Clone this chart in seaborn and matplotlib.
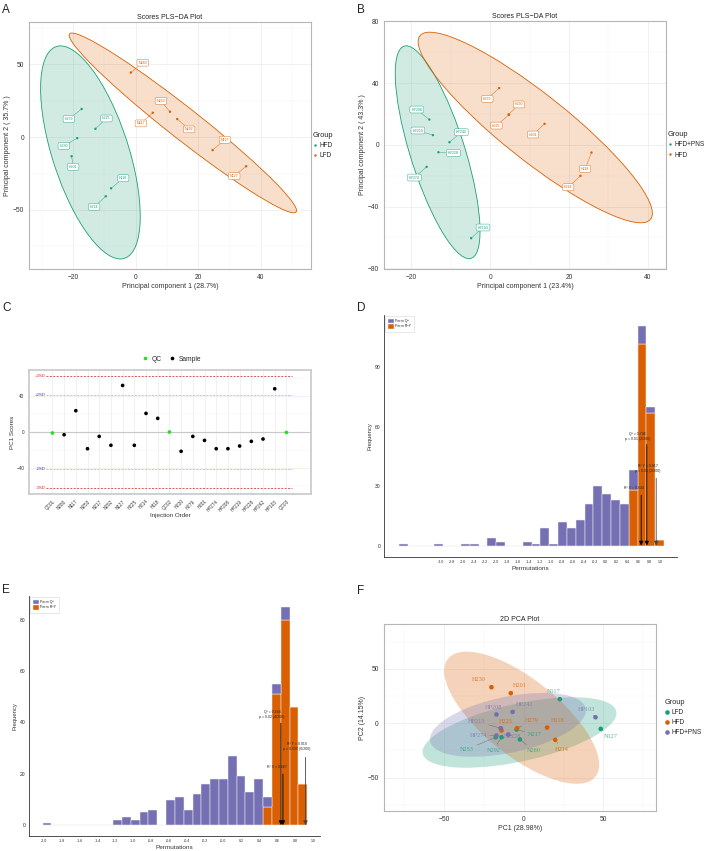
import numpy as np
import pandas as pd
import matplotlib
matplotlib.use("Agg")
import matplotlib.pyplot as plt
from matplotlib.patches import Ellipse
from matplotlib.ticker import MultipleLocator, FixedLocator
import seaborn as sns

sns.set_style("white")
plt.rcParams["font.family"] = ["Liberation Sans", "DejaVu Sans"]

GREEN, ORANGE, PURPLE = "#1B9E77", "#D95F02", "#7570B3"

# ---------------- data ----------------
# A: PLS-DA scores, HFD vs LFD
a_names = ["H279", "H225", "H230", "H201", "H118", "H214",
           "N280", "N217", "N253", "N292", "N117", "N127"]
a_group = ["HFD"] * 6 + ["LFD"] * 6
a_pc1 = [-17.2, -12.8, -18.6, -20.4, -7.8, -9.5, -1.5, 5.5, 11.0, 13.3, 24.6, 35.3]
a_pc2 = [19.3, 5.7, -0.7, -13.1, -35.1, -40.6, 44.3, 16.7, 17.4, 12.4, -8.9, -20.0]
# ellipse: centre x, centre y, half-extent x, half-extent y, correlation
a_ell = {"HFD": (-14.4, -10.5, 15.9, 73.1, -0.60),
         "LFD": (15.1, 9.75, 36.3, 61.7, -0.975)}

# B: PLS-DA scores, HFD+PNS vs HFD
b_names = ["HP208", "HP219", "HP242", "HP228", "HP274", "HP103",
           "H279", "H230", "H225", "H201", "H118", "H214"]
b_group = ["HFD+PNS"] * 6 + ["HFD"] * 6
b_pc1 = [-15.4, -14.5, -10.3, -13.1, -16.1, -4.8, 2.3, 4.7, 4.8, 13.8, 25.7, 22.9]
b_pc2 = [16.4, 6.3, 1.7, -4.8, -14.3, -60.5, 36.8, 19.7, 19.5, 13.6, -5.0, -20.1]
b_ell = {"HFD+PNS": (-13.3, -4.8, 10.75, 69.0, -0.74),
         "HFD": (11.45, 11.25, 29.7, 61.8, -0.90)}

# C: PC1 scores by injection order
c_order = ["QC01", "N280", "N117", "N253", "N217", "N292", "N127", "H225", "H214",
           "H118", "QC02", "H230", "H279", "H201", "HP274", "HP208", "HP219",
           "HP228", "HP242", "HP103", "QC03"]
c_scores = [-1.1, -3.0, 23.7, -18.6, -4.9, -14.8, 51.8, -14.8, 20.7, 15.2, 0.0,
            -21.5, -4.9, -9.3, -18.6, -18.6, -15.6, -10.4, -7.8, 48.1, -0.5]
c_sd = 20.7

# D: permutation test (HFD vs LFD), 30 bins
d_edges = np.linspace(-3.76, 1.06, 31)
d_q2 = [1, 0, 0, 0, 1, 0, 0, 1, 1, 0, 4, 2, 0, 0, 2, 1, 9, 1, 12, 9,
        13, 21, 30, 26, 23, 21, 10, 9, 3, 0]
d_r2y = [0] * 26 + [28, 102, 67, 3]
d_stats = {"Q2": 0.746, "R2Y": 0.917, "R2X": 0.644}

# E: permutation test (HFD+PNS vs HFD), 30 bins
e_edges = np.linspace(-2.011, 0.937, 31)
e_q2 = [1, 0, 0, 0, 0, 0, 0, 0, 2, 3, 2, 5, 6, 0, 10, 11, 6, 12, 16, 18,
        18, 27, 19, 13, 18, 4, 4, 5, 0, 0]
e_r2y = [0] * 25 + [7, 51, 80, 46, 16]
e_stats = {"Q2": 0.644, "R2Y": 0.919, "R2X": 0.667}

# F: PCA scores, three groups
f_names = ["N117", "N127", "N253", "N292", "N217", "N280",
           "H230", "H201", "H118", "H214", "H279", "H225",
           "HP208", "HP242", "HP103", "HP219", "HP274", "HP228"]
f_group = ["LFD"] * 6 + ["HFD"] * 6 + ["HFD+PNS"] * 6
f_pc1 = [22.6, 48.3, -17.6, -14.0, -4.6, -2.5,
         -20.3, -8.2, 14.6, 19.7, -4.2, -14.0,
         -17.2, -7.1, 45.0, -14.6, -17.2, -9.8]
f_pc2 = [22.1, -5.2, -12.9, -12.9, -5.8, -15.0,
         33.1, 27.6, -4.0, -15.3, -4.6, -6.7,
         8.0, 10.4, 5.5, -4.6, -11.3, -10.4]
f_ell = {"LFD": (-2.7, -8.55, 60.9, 32.45, 0.55),
         "HFD": (-1.35, 5.05, 48.65, 60.8, -0.71),
         "HFD+PNS": (-10.0, -1.5, 49.0, 29.4, 0.45)}

# label offsets (layout only)
a_lab = [(-21.3, 12.4), (-9.3, 12.8), (-22.9, -6.0), (-19.9, -20.4), (-3.9, -28.2), (-13.2, -47.9),
         (2.3, 51.1), (1.7, 9.4), (8.1, 24.8), (17.1, 5.3), (28.5, -1.8), (31.5, -26.8)]
b_lab = [(-18.6, 22.9), (-18.3, 9.3), (-7.3, 8.2), (-9.3, -5.2), (-19.2, -21.2), (-1.8, -53.6),
         (-0.7, 29.8), (7.3, 26.2), (1.6, 12.5), (10.9, 6.7), (24.1, -15.6), (19.8, -27.5)]
f_lab = [(18.8, 28.8), (54.4, -12.3), (-36.0, -24.2), (-19.2, -24.8), (6.9, -10.4), (6.3, -25.1),
         (-28.2, 39.8), (-2.5, 34.3), (21.5, 2.5), (24.1, -23.9), (5.2, 2.5), (-11.3, 1.5),
         (-18.8, 14.7), (0.6, 17.2), (39.3, 12.6), (-29.7, 1.5), (-28.7, -11.0), (-7.1, -11.9)]

# ---------------- helpers ----------------
W, H = 709, 851
fig = plt.figure(figsize=(7.09, 8.51), dpi=100)


def box(x0, y0, x1, y1):
    return [x0 / W, 1 - y1 / H, (x1 - x0) / W, (y1 - y0) / H]


def add_ellipse(ax, p, **kw):
    cx, cy, sx, sy, r = p
    cov = np.array([[sx * sx, r * sx * sy], [r * sx * sy, sy * sy]])
    vals, vecs = np.linalg.eigh(cov)
    ang = np.degrees(np.arctan2(vecs[1, 1], vecs[0, 1]))
    ax.add_patch(Ellipse((cx, cy), 2 * np.sqrt(vals[1]), 2 * np.sqrt(vals[0]), angle=ang, **kw))


def bw_style(ax, tick=4.8):
    ax.set_facecolor("white")
    ax.grid(True, which="major", color="#ebebeb", lw=0.5)
    ax.grid(True, which="minor", color="#f4f4f4", lw=0.3)
    ax.set_axisbelow(True)
    for s in ax.spines.values():
        s.set_visible(True)
        s.set_color("#b5b5b5")
        s.set_linewidth(0.8)
    ax.tick_params(which="major", length=2, width=0.4, color="#555555",
                   labelsize=tick, pad=1.5, labelcolor="#333333")
    ax.tick_params(which="minor", length=0)


def group_legend(ax, x=1.0):
    sns.move_legend(ax, "center left", bbox_to_anchor=(x, 0.5), title="Group",
                    frameon=False, fontsize=4.7, title_fontsize=5.3,
                    handlelength=0.6, handletextpad=0.4, borderpad=0.2,
                    borderaxespad=0.1, labelspacing=0.5)
    ax.get_legend()._legend_box.align = "left"


def pls_panel(ax, names, group, pc1, pc2, ell, lab, pal, xlab, ylab):
    for g, c in pal.items():
        add_ellipse(ax, ell[g], fc=c, alpha=0.2, ec="none", zorder=1)
        add_ellipse(ax, ell[g], fc="none", ec=c, lw=0.6, zorder=1.5)
    df = pd.DataFrame({"x": pc1, "y": pc2, "g": group})
    sns.scatterplot(df, x="x", y="y", hue="g", hue_order=list(pal), palette=pal,
                    s=3, edgecolor="none", ax=ax, zorder=3)
    for n, g, x, y, (lx, ly) in zip(names, group, pc1, pc2, lab):
        c = pal[g]
        ax.annotate(n, xy=(x, y), xytext=(lx, ly), fontsize=2.6, color=c,
                    ha="center", va="center", zorder=4,
                    bbox=dict(boxstyle="round,pad=0.4", fc="white", ec=c, lw=0.3),
                    arrowprops=dict(arrowstyle="-", color=c, lw=0.3, shrinkA=0, shrinkB=0.8))
    ax.set_title("Scores PLS\u2212DA Plot", fontsize=5, pad=2.5, color="#222222")
    ax.set_xlabel(xlab, fontsize=5, labelpad=1.5, color="#333333")
    ax.set_ylabel(ylab, fontsize=5, labelpad=1.5, color="#333333")
    bw_style(ax)
    group_legend(ax)


# ---------------- A ----------------
axA = fig.add_axes(box(29, 22, 311, 269))
pls_panel(axA, a_names, a_group, a_pc1, a_pc2, a_ell, a_lab, {"HFD": GREEN, "LFD": ORANGE},
          "Principal component 1 (28.7%)", "Principal component 2 ( 35.7% )")
axA.set_xlim(-34, 56)
axA.set_ylim(-90.5, 79)
axA.xaxis.set_major_locator(FixedLocator([-20, 0, 20, 40]))
axA.xaxis.set_minor_locator(MultipleLocator(10))
axA.yaxis.set_major_locator(FixedLocator([-50, 0, 50]))
axA.yaxis.set_minor_locator(MultipleLocator(25))

# ---------------- B ----------------
axB = fig.add_axes(box(384, 21, 666, 269))
pls_panel(axB, b_names, b_group, b_pc1, b_pc2, b_ell, b_lab, {"HFD+PNS": GREEN, "HFD": ORANGE},
          "Principal component 1 (23.4%)", "Principal component 2 ( 43.3% )")
axB.set_xlim(-26.9, 44.6)
axB.set_ylim(-80.5, 80.3)
axB.xaxis.set_major_locator(FixedLocator([-20, 0, 20, 40]))
axB.xaxis.set_minor_locator(MultipleLocator(10))
axB.yaxis.set_major_locator(FixedLocator([-80, -40, 0, 40, 80]))
axB.yaxis.set_minor_locator(MultipleLocator(20))

# ---------------- C ----------------
axC = fig.add_axes(box(29, 370, 311, 494))
idx = np.arange(len(c_order))
c_type = ["QC" if n.startswith("QC") else "Sample" for n in c_order]
axC.axhline(0, color="#c8c8c8", lw=0.8, zorder=1)
for k, col, tcol in [(3, "#e05555", "#cc3333"), (2, "#f2c065", "#3b3bd0")]:
    for sgn in (1, -1):
        axC.plot([-0.55, 20.45], [sgn * k * c_sd] * 2, ls=(0, (2, 1.5)), color=col, lw=0.7, zorder=2)
        axC.text(-0.55, sgn * k * c_sd, ("+" if sgn > 0 else "-") + f"{k}SD",
                 fontsize=3.2, color=tcol, ha="right", va="center")
sns.scatterplot(x=idx, y=c_scores, hue=c_type, hue_order=["QC", "Sample"],
                palette={"QC": "#22e022", "Sample": "black"}, s=7, edgecolor="none",
                ax=axC, zorder=3)
axC.set_xlim(-2.0, 22.1)
axC.set_ylim(-69, 69)
axC.set_xticks(idx)
axC.set_xticklabels(c_order, rotation=45, ha="right", rotation_mode="anchor")
axC.set_yticks([-40, 0, 40])
axC.yaxis.set_minor_locator(MultipleLocator(20))
bw_style(axC, tick=3.3)
for s in axC.spines.values():
    s.set_color("#c8c8c8")
    s.set_linewidth(1.2)
axC.set_xlabel("Injection Order", fontsize=4.5, labelpad=0.5, color="#333333")
axC.set_ylabel("PC1 Scores", fontsize=4.5, labelpad=1, color="#333333")
sns.move_legend(axC, "lower center", bbox_to_anchor=(0.5, 1.01), ncol=2, title=None,
                frameon=False, fontsize=4.8, handletextpad=0.0, columnspacing=0.6)


# ---------------- D / E ----------------
def perm_panel(ax, edges, q2, r2y, stats, pvals, xlim, ylim, xticks, yticks, txt, tops):
    centers = (edges[:-1] + edges[1:]) / 2
    df = pd.DataFrame({"x": np.concatenate([centers, centers]),
                       "n": list(q2) + list(r2y),
                       "perm": ["Perm Q\u00b2"] * len(q2) + ["Perm R\u00b2Y"] * len(r2y)})
    sns.histplot(df, x="x", weights="n", hue="perm", bins=list(edges), multiple="stack",
                 hue_order=["Perm Q\u00b2", "Perm R\u00b2Y"],
                 palette={"Perm Q\u00b2": PURPLE, "Perm R\u00b2Y": ORANGE},
                 alpha=1, edgecolor="#f2f2f2", linewidth=0.35, ax=ax)
    labels = {"Q2": "Q\u00b2 = {:.3f}\np = {}".format(stats["Q2"], pvals["Q2"]),
              "R2Y": "R\u00b2 Y = {:.3f}\np = {}".format(stats["R2Y"], pvals["R2Y"]),
              "R2X": "R\u00b2 X = {:.3f}".format(stats["R2X"])}
    for k in ("Q2", "R2Y", "R2X"):
        col = "#444444" if k == "R2Y" else "black"
        ax.annotate("", xy=(stats[k], 0), xytext=(stats[k], tops[k]),
                    arrowprops=dict(arrowstyle="-|>,head_length=0.25,head_width=0.12",
                                    color=col, lw=0.6, shrinkA=0, shrinkB=0))
        ax.text(txt[k][0], txt[k][1], labels[k], fontsize=2.5, ha="center", va="center",
                linespacing=1.3, color="#222222")
    ax.set_xlim(*xlim)
    ax.set_ylim(*ylim)
    ax.set_xticks(xticks)
    ax.set_xticklabels([f"{t:.1f}" for t in xticks])
    ax.set_yticks(yticks)
    ax.set_xlabel("Permutations", fontsize=4.6, labelpad=1, color="#333333")
    ax.set_ylabel("Frequency", fontsize=4.2, labelpad=2, color="#333333")
    for s in ("top", "right"):
        ax.spines[s].set_visible(False)
    for s in ("left", "bottom"):
        ax.spines[s].set_color("#333333")
        ax.spines[s].set_linewidth(0.6)
    ax.tick_params(axis="x", labelsize=2.6, length=1.5, width=0.4, pad=1)
    ax.tick_params(axis="y", labelsize=3.6, length=1.5, width=0.4, pad=1)
    sns.move_legend(ax, "upper left", bbox_to_anchor=(0.0, 1.0), title=None, frameon=True,
                    fontsize=2.6, handlelength=1.6, handleheight=1.6, borderpad=0.5,
                    labelspacing=0.2, handletextpad=0.5)
    leg = ax.get_legend()
    leg.get_frame().set_edgecolor("#cccccc")
    leg.get_frame().set_linewidth(0.4)
    leg.get_frame().set_boxstyle("square")


axD = fig.add_axes(box(384.3, 315, 676.7, 556.7))
perm_panel(axD, d_edges, d_q2, d_r2y, d_stats,
           {"Q2": "0.01 (2/200)", "R2Y": "0.01 (2/200)"},
           (-4.03, 1.29), (-5.6, 116.5), np.round(np.arange(-3.0, 1.01, 0.2), 1), [0, 30, 60, 90],
           {"Q2": (0.582, 55), "R2Y": (0.764, 39), "R2X": (0.51, 29.1)},
           {"Q2": 51, "R2Y": 34, "R2X": 25.5})

axE = fig.add_axes(box(29.3, 596, 320, 836))
perm_panel(axE, e_edges, e_q2, e_r2y, e_stats,
           {"Q2": "0.02 (4/200)", "R2Y": "0.005 (0/200)"},
           (-2.16, 1.08), (-4.2, 89.2), np.round(np.arange(-2.0, 1.01, 0.2), 1), [0, 20, 40, 60, 80],
           {"Q2": (0.546, 43.2), "R2Y": (0.817, 30.6), "R2X": (0.595, 22.6)},
           {"Q2": 39.7, "R2Y": 26.4, "R2X": 19.9})

# ---------------- F ----------------
axF = fig.add_axes(box(383.7, 624.3, 656, 810.7))
f_pal = {"LFD": GREEN, "HFD": ORANGE, "HFD+PNS": PURPLE}
for g, c in f_pal.items():
    add_ellipse(axF, f_ell[g], fc=c, alpha=0.27, ec="none", zorder=1)
dfF = pd.DataFrame({"x": f_pc1, "y": f_pc2, "g": f_group})
sns.scatterplot(dfF, x="x", y="y", hue="g", hue_order=list(f_pal), palette=f_pal,
                s=11, edgecolor="none", ax=axF, zorder=3)
for n, g, x, y, (lx, ly) in zip(f_names, f_group, f_pc1, f_pc2, f_lab):
    axF.annotate(n, xy=(x, y), xytext=(lx, ly), fontsize=4.5, color=f_pal[g], alpha=0.75,
                 family=["Liberation Serif", "DejaVu Serif"], ha="center", va="center", zorder=4,
                 arrowprops=dict(arrowstyle="-", color="#666666", lw=0.3, shrinkA=0, shrinkB=1.5))
axF.set_xlim(-88, 83)
axF.set_ylim(-80.5, 91)
axF.xaxis.set_major_locator(FixedLocator([-50, 0, 50]))
axF.xaxis.set_minor_locator(MultipleLocator(25))
axF.yaxis.set_major_locator(FixedLocator([-50, 0, 50]))
axF.yaxis.set_minor_locator(MultipleLocator(25))
axF.set_title("2D PCA Plot", fontsize=5, pad=2.5, color="#222222")
axF.set_xlabel("PC1 (28.98%)", fontsize=5, labelpad=1.5, color="#333333")
axF.set_ylabel("PC2 (14.15%)", fontsize=5, labelpad=1.5, color="#333333")
bw_style(axF)
group_legend(axF, x=1.025)

# ---------------- panel letters ----------------
for letter, x, y in [("A", 2, 4), ("B", 357, 4), ("C", 2, 302), ("D", 357, 302),
                     ("E", 2, 584), ("F", 357, 585)]:
    fig.text(x / W, 1 - y / H, letter, fontsize=8.5, ha="left", va="top", color="#222222")

fig.savefig("out.png", dpi=100, facecolor="white")
